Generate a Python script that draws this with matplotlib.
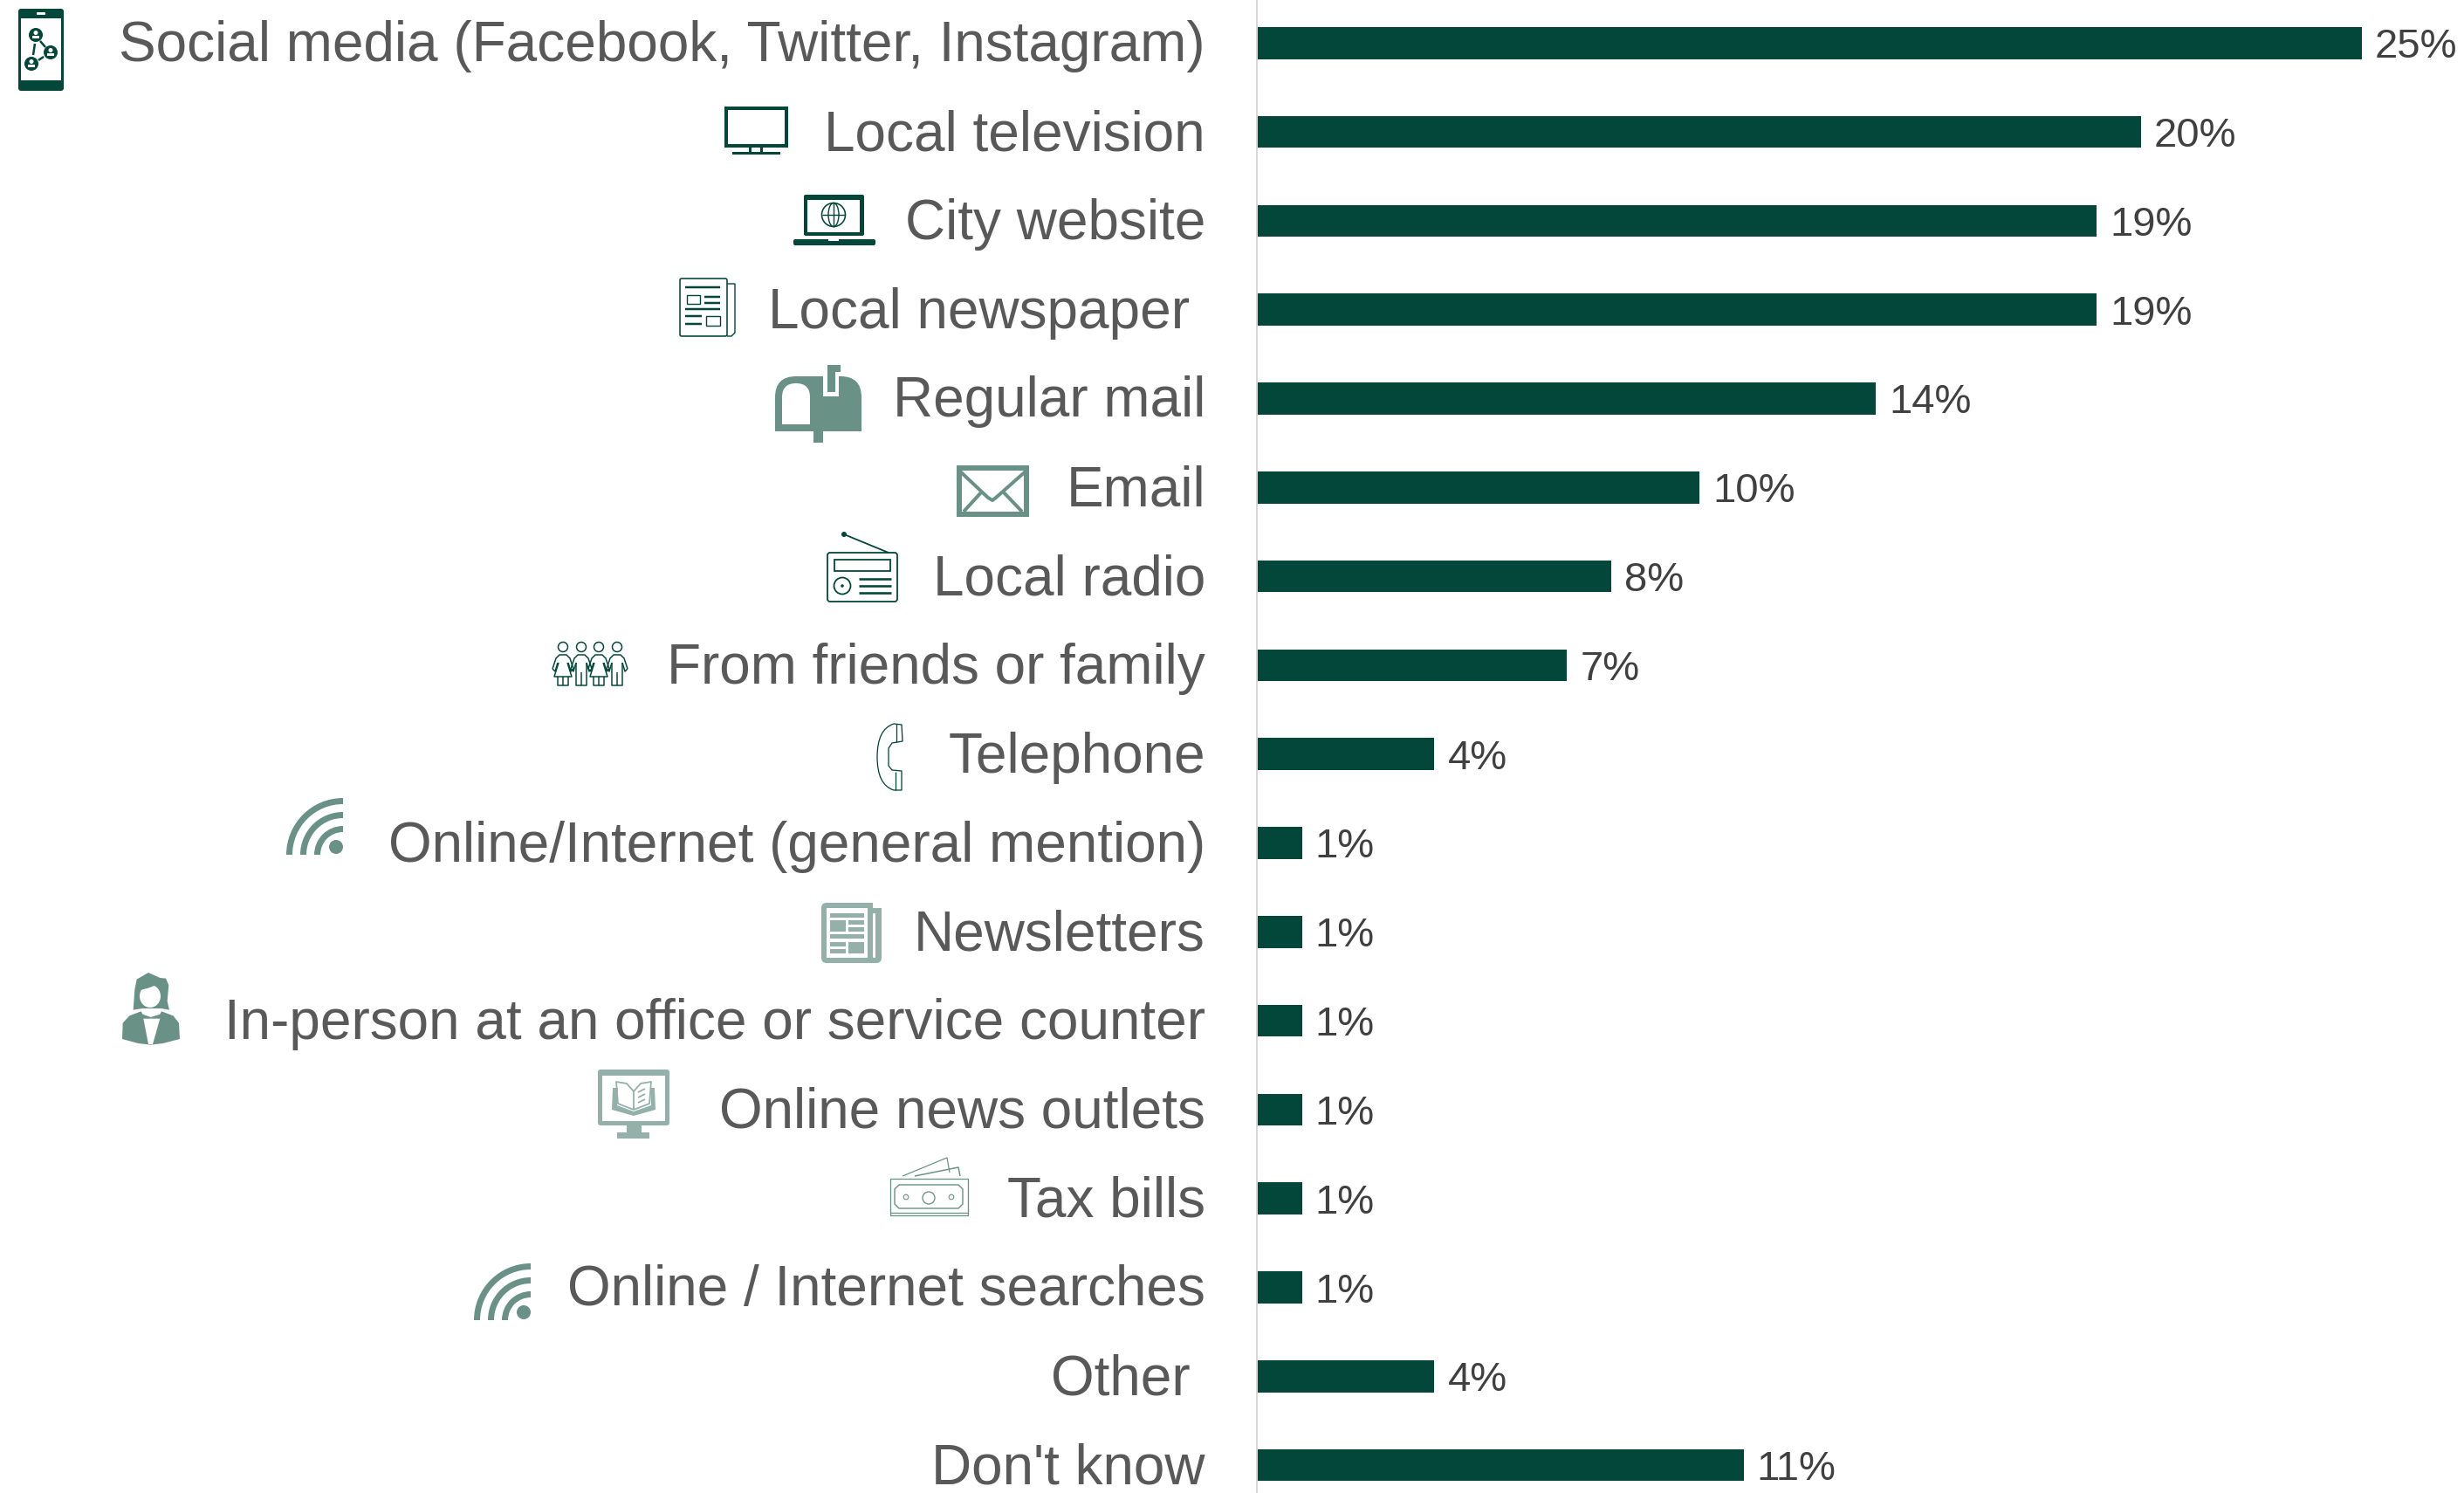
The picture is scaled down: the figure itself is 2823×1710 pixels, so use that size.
#!/usr/bin/env python3
"""Horizontal bar chart of preferred information sources, with a small pictogram per row."""

import matplotlib
matplotlib.use('Agg')

import numpy as np
import matplotlib.pyplot as plt
import matplotlib.patches as patches
from matplotlib.path import Path

plt.rcParams['font.family'] = ['Liberation Sans', 'DejaVu Sans']

# Chart data
categories = [
    'Social media (Facebook, Twitter, Instagram)',
    'Local television',
    'City website',
    'Local newspaper ',
    'Regular mail',
    'Email',
    'Local radio',
    'From friends or family',
    'Telephone',
    'Online/Internet (general mention)',
    'Newsletters',
    'In-person at an office or service counter',
    'Online news outlets',
    'Tax bills',
    'Online / Internet searches',
    'Other ',
    "Don't know",
]
values = [25, 20, 19, 19, 14, 10, 8, 7, 4, 1, 1, 1, 1, 1, 1, 4, 11]

# Colors
COLOR_BAR = '#03473A'
COLOR_DARK = '#03473A'
COLOR_MID = '#6A9186'
COLOR_LIGHT = '#94B1A9'
COLOR_LABEL = '#595959'
COLOR_VALUE = '#404040'
COLOR_AXIS = '#D9D9D9'

# Canvas and plot geometry, in pixels
WIDTH, HEIGHT = 2823, 1710
BAR_LEFT = 1441
PX_PER_PCT = 50.6
ROW_TOP = 49.3
ROW_STEP = 101.8
PX = 0.72  # one pixel in points at dpi=100


def rect(ax, x0, y0, x1, y1, color, lw=0, fill=True, zorder=2):
    ax.add_patch(patches.Rectangle((x0, y0), x1 - x0, y1 - y0, linewidth=lw * PX,
                                   edgecolor=color if lw else 'none',
                                   facecolor=color if fill else 'none', zorder=zorder))


def rrect(ax, x0, y0, x1, y1, r, color, lw=0, fill=True, zorder=2):
    ax.add_patch(patches.FancyBboxPatch((x0 + r, y0 + r), x1 - x0 - 2 * r, y1 - y0 - 2 * r,
                                        boxstyle=f'round,pad={r},rounding_size={r}',
                                        linewidth=lw * PX, edgecolor=color if lw else 'none',
                                        facecolor=color if fill else 'none', zorder=zorder))


def line(ax, pts, color, lw=2, zorder=3):
    xs, ys = zip(*pts)
    ax.plot(xs, ys, color=color, linewidth=lw * PX, solid_capstyle='butt',
            solid_joinstyle='round', zorder=zorder)


def poly(ax, pts, color, zorder=2):
    ax.add_patch(patches.Polygon(pts, closed=True, facecolor=color, edgecolor='none', zorder=zorder))


def circle(ax, x, y, r, color, lw=0, fill=True, zorder=3):
    ax.add_patch(patches.Circle((x, y), r, linewidth=lw * PX, edgecolor=color if lw else 'none',
                                facecolor=color if fill else 'none', zorder=zorder))


def draw_phone(ax):
    rrect(ax, 21, 10, 73, 104, 3, COLOR_DARK)
    rect(ax, 24, 21, 70, 92, 'white', zorder=3)
    rrect(ax, 42, 14, 52, 17, 1, 'white', zorder=3)
    nodes = [(41, 40), (58, 60), (36, 73)]
    line(ax, [(46, 47), (52, 54)], COLOR_DARK, 2.5, zorder=4)
    line(ax, [(40, 50), (38, 63)], COLOR_DARK, 2.5, zorder=4)
    line(ax, [(44, 69), (50, 65)], COLOR_DARK, 2.5, zorder=4)
    for x, y in nodes:
        circle(ax, x, y, 8, COLOR_DARK, zorder=4)
        circle(ax, x, y - 2.5, 2.5, 'white', zorder=5)
        rect(ax, x - 4, y + 1, x + 4, y + 4, 'white', zorder=5)


def draw_tv(ax):
    rect(ax, 832, 124, 901, 167, COLOR_DARK, lw=4, fill=False)
    rect(ax, 858, 169, 861, 175, COLOR_DARK)
    rect(ax, 871, 169, 874, 175, COLOR_DARK)
    rect(ax, 839, 174, 894, 177, COLOR_DARK)


def draw_laptop(ax):
    rrect(ax, 921, 223, 990, 270, 2, COLOR_DARK)
    rect(ax, 925, 229, 985, 266, 'white', zorder=3)
    circle(ax, 955, 246, 13.5, COLOR_DARK, lw=1.6, fill=False, zorder=4)
    ax.add_patch(patches.Ellipse((955, 246), 12, 27, linewidth=1.4 * PX, edgecolor=COLOR_DARK,
                                 facecolor='none', zorder=4))
    line(ax, [(955, 232), (955, 260)], COLOR_DARK, 1.4, zorder=4)
    line(ax, [(942, 246), (968, 246)], COLOR_DARK, 1.4, zorder=4)
    rrect(ax, 909, 274, 1003, 281, 2, COLOR_DARK)
    rect(ax, 949, 274, 961, 276, 'white', zorder=3)


def draw_newspaper(ax):
    rrect(ax, 779, 319, 833, 385, 2, COLOR_DARK, lw=1.6, fill=False)
    line(ax, [(833, 325), (842, 325), (842, 381), (838, 385), (833, 385)], COLOR_DARK, 1.4)
    for y0 in (329, 354):
        line(ax, [(785, y0), (825, y0)], COLOR_DARK, 2.5)
    rect(ax, 787, 338, 802, 348, COLOR_DARK, lw=1.4, fill=False)
    line(ax, [(807, 340), (825, 340)], COLOR_DARK, 2.5)
    line(ax, [(807, 347), (825, 347)], COLOR_DARK, 2.5)
    line(ax, [(785, 362), (804, 362)], COLOR_DARK, 2.5)
    line(ax, [(785, 371), (804, 371)], COLOR_DARK, 2.5)
    rect(ax, 809, 362, 825, 373, COLOR_DARK, lw=1.4, fill=False)


def draw_mailbox(ax):
    verts = [(888, 494), (888, 455), (888, 431), (912, 431), (963, 431), (987, 431),
             (987, 455), (987, 494), (888, 494)]
    codes = [Path.MOVETO, Path.LINETO, Path.CURVE3, Path.CURVE3, Path.LINETO, Path.CURVE3,
             Path.CURVE3, Path.LINETO, Path.CLOSEPOLY]
    ax.add_patch(patches.PathPatch(Path(verts, codes), facecolor=COLOR_MID, edgecolor='none', zorder=2))
    # door
    door = [(896, 486), (896, 455), (896, 439), (912, 439), (928, 439), (928, 455), (928, 486), (896, 486)]
    door_codes = [Path.MOVETO, Path.LINETO, Path.CURVE3, Path.CURVE3, Path.CURVE3, Path.CURVE3,
                  Path.LINETO, Path.CLOSEPOLY]
    ax.add_patch(patches.PathPatch(Path(door, door_codes), facecolor='white', edgecolor='none', zorder=3))
    rect(ax, 932, 494, 943, 507, COLOR_MID)
    # flag sits in a white notch
    rect(ax, 943, 431, 961, 454, 'white', zorder=3)
    rect(ax, 948, 418, 957, 449, COLOR_MID, zorder=4)
    rect(ax, 948, 418, 963, 426, COLOR_MID, zorder=4)


def draw_envelope(ax):
    rect(ax, 1099, 536, 1176, 589, COLOR_MID, lw=6, fill=False)
    line(ax, [(1099, 539), (1132, 570), (1137, 573), (1141, 570), (1176, 539)], COLOR_MID, 4)
    line(ax, [(1104, 586), (1125, 563)], COLOR_MID, 4)
    line(ax, [(1171, 586), (1149, 563)], COLOR_MID, 4)


def draw_radio(ax):
    rrect(ax, 948, 633, 1028, 689, 3, COLOR_DARK, lw=1.8, fill=False)
    line(ax, [(967, 612), (1018, 633)], COLOR_DARK, 1.8)
    circle(ax, 967, 612, 3, COLOR_DARK)
    rect(ax, 956, 641, 1020, 654, COLOR_DARK, lw=1.8, fill=False)
    circle(ax, 965, 671, 9.5, COLOR_DARK, lw=1.8, fill=False)
    circle(ax, 965, 671, 1.8, COLOR_DARK)
    for y0 in (663, 671, 679):
        line(ax, [(984, y0), (1021, y0)], COLOR_DARK, 2.6)


def draw_family(ax):
    shoulders = [(-12, 25), (-8, 13), (-4, 9), (4, 9), (8, 13), (12, 25)]
    for i, cx in enumerate((645, 666, 686, 707)):
        cy = 741
        circle(ax, cx, cy, 5.5, COLOR_DARK, lw=1.5, fill=False)
        offset = lambda pts: [(cx + dx, cy + dy) for dx, dy in pts]
        line(ax, offset(shoulders), COLOR_DARK, 1.5)
        line(ax, offset([(-12, 25), (-9, 28), (-6, 18)]), COLOR_DARK, 1.5)
        line(ax, offset([(12, 25), (9, 28), (6, 18)]), COLOR_DARK, 1.5)
        if i % 2 == 0:
            line(ax, offset([(-5, 18), (-10, 34), (10, 34), (5, 18)]), COLOR_DARK, 1.5)
            line(ax, offset([(-6, 34), (-6, 44), (6, 44), (6, 34)]), COLOR_DARK, 1.5)
            line(ax, offset([(0, 34), (0, 44)]), COLOR_DARK, 1.5)
        else:
            line(ax, offset([(-6, 18), (-6, 44), (6, 44), (6, 18)]), COLOR_DARK, 1.5)
            line(ax, offset([(0, 29), (0, 44)]), COLOR_DARK, 1.5)


def draw_telephone(ax):
    verts = [(1033, 830), (1024, 829), (1005, 835), (1005, 867), (1005, 899), (1024, 905),
             (1033, 905), (1033, 883), (1022, 882), (1018, 877), (1018, 857), (1022, 851),
             (1034, 849), (1034, 830)]
    codes = [Path.MOVETO, Path.LINETO, Path.CURVE3, Path.CURVE3, Path.CURVE3, Path.CURVE3,
             Path.LINETO, Path.LINETO, Path.LINETO, Path.LINETO, Path.LINETO, Path.LINETO,
             Path.LINETO, Path.CLOSEPOLY]
    ax.add_patch(patches.PathPatch(Path(verts, codes), facecolor='none', edgecolor=COLOR_DARK,
                                   linewidth=1.3 * PX, zorder=3))
    line(ax, [(1027, 829), (1027, 850)], COLOR_DARK, 1.3)
    line(ax, [(1026, 884), (1026, 905)], COLOR_DARK, 1.3)


def draw_wifi(ax, x, y):
    # (x, y) is the lower right corner of the quarter arcs
    for r in (61, 45, 29):
        ax.add_patch(patches.Wedge((x, y), r + 4, 180, 270, width=7, facecolor=COLOR_MID,
                                   edgecolor='none', zorder=2))
    circle(ax, x - 8, y - 9, 8, COLOR_MID)


def draw_newsletter(ax):
    color = COLOR_LIGHT
    rrect(ax, 941, 1034, 1010, 1103, 6, color)
    rect(ax, 1000, 1034, 1010, 1040, 'white', zorder=3)
    rect(ax, 947, 1040, 994, 1097, 'white', zorder=3)
    rrect(ax, 1000, 1046, 1003, 1097, 1, 'white', zorder=3)
    rect(ax, 951, 1046, 990, 1051, color, zorder=4)
    rect(ax, 951, 1054, 969, 1067, color, zorder=4)
    rect(ax, 972, 1054, 990, 1059, color, zorder=4)
    rect(ax, 972, 1062, 990, 1067, color, zorder=4)
    rect(ax, 951, 1070, 990, 1075, color, zorder=4)
    rect(ax, 951, 1079, 969, 1084, color, zorder=4)
    rect(ax, 951, 1087, 969, 1092, color, zorder=4)
    rect(ax, 972, 1079, 990, 1092, color, zorder=4)


def draw_woman(ax):
    color = COLOR_MID
    # outline points are taken at 3x scale around the icon's corner
    scaled = lambda pts: [(120 + x / 3, 1100 + y / 3) for x, y in pts]
    hair = [(98, 170), (103, 100), (110, 65), (150, 42), (190, 60), (210, 62), (220, 85),
            (215, 140), (222, 170), (195, 165), (130, 165)]
    poly(ax, scaled(hair), color)
    ax.add_patch(patches.Ellipse((172, 1141), 24, 26, facecolor='white', edgecolor='none', zorder=3))
    fringe = [(121, 102), (150, 95), (175, 85), (192, 68), (160, 52), (118, 75)]
    poly(ax, scaled(fringe), color, zorder=4)
    # shoulders and jacket
    jacket = [(60, 270), (62, 215), (85, 190), (125, 175), (130, 185), (158, 195), (190, 185),
              (195, 175), (235, 190), (255, 215), (258, 270), (200, 285), (158, 290), (115, 285)]
    poly(ax, scaled(jacket), color)
    shirt = [(133, 200), (190, 200), (165, 288), (150, 288)]
    poly(ax, scaled(shirt), 'white', zorder=3)


def draw_monitor_book(ax):
    color = COLOR_LIGHT
    rrect(ax, 685, 1225, 767, 1289, 3, color)
    rect(ax, 690, 1232, 762, 1284, 'white', zorder=3)
    rect(ax, 718, 1289, 735, 1298, color)
    rect(ax, 707, 1297, 744, 1304, color)
    # open book
    poly(ax, [(702, 1246), (701, 1271), (726, 1278), (751, 1271), (750, 1246), (745, 1246),
              (746, 1266), (726, 1273), (707, 1266), (708, 1246)], color, zorder=4)
    line(ax, [(726, 1250), (718, 1241), (706, 1239), (708, 1264), (726, 1271), (744, 1264),
              (746, 1239), (734, 1241), (726, 1250), (726, 1271)], color, 1.8, zorder=4)
    line(ax, [(731, 1251), (739, 1247)], color, 1.8, zorder=4)
    line(ax, [(731, 1257), (739, 1253)], color, 1.8, zorder=4)
    line(ax, [(731, 1263), (739, 1259)], color, 1.8, zorder=4)


def draw_bills(ax):
    color = COLOR_MID
    rect(ax, 1020, 1350, 1109, 1392, color, lw=1.3, fill=False)
    line(ax, [(1020, 1389), (1109, 1389)], color, 1.3)
    line(ax, [(1030, 1357), (1098, 1357), (1103, 1362), (1103, 1379), (1098, 1384),
              (1030, 1384), (1025, 1379), (1025, 1362), (1030, 1357)], color, 1.4)
    circle(ax, 1064, 1372, 7, color, lw=1.3, fill=False)
    circle(ax, 1038, 1371, 2.8, color, lw=1.1, fill=False)
    circle(ax, 1090, 1371, 2.8, color, lw=1.1, fill=False)
    line(ax, [(1034, 1347), (1085, 1326), (1088, 1343)], color, 1.2)
    line(ax, [(1048, 1347), (1098, 1337), (1100, 1347)], color, 1.5)


def draw_icons(ax):
    draw_phone(ax)
    draw_tv(ax)
    draw_laptop(ax)
    draw_newspaper(ax)
    draw_mailbox(ax)
    draw_envelope(ax)
    draw_radio(ax)
    draw_family(ax)
    draw_telephone(ax)
    draw_wifi(ax, 393, 979)
    draw_newsletter(ax)
    draw_woman(ax)
    draw_monitor_book(ax)
    draw_bills(ax)
    draw_wifi(ax, 608, 1512)


def main():
    fig = plt.figure(figsize=(WIDTH / 100, HEIGHT / 100), dpi=100, facecolor='white')

    # Bars live in an axes whose scale is percent on x and row index on y
    ax = fig.add_axes([BAR_LEFT / WIDTH, 0, 1 - BAR_LEFT / WIDTH, 1])
    ax.set_xlim(0, (WIDTH - BAR_LEFT) / PX_PER_PCT)
    ax.set_ylim((HEIGHT - ROW_TOP) / ROW_STEP, -ROW_TOP / ROW_STEP)
    rows = np.arange(len(categories))
    ax.barh(rows, values, height=0.36, color=COLOR_BAR, linewidth=0)

    for spine in ('top', 'right', 'bottom'):
        ax.spines[spine].set_visible(False)
    ax.spines['left'].set_color(COLOR_AXIS)
    ax.spines['left'].set_linewidth(2 * PX)
    ax.spines['left'].set_position(('outward', 1))
    ax.set_xticks([])
    ax.set_yticks([])
    ax.patch.set_alpha(0)

    for row, label, val in zip(rows, categories, values):
        ax.annotate(label, xy=(0, row), xytext=(-60, -21), textcoords='offset pixels',
                    ha='right', va='baseline', fontsize=46, color=COLOR_LABEL,
                    annotation_clip=False)
        ax.annotate(f'{val}%', xy=(val, row), xytext=(15, -17), textcoords='offset pixels',
                    ha='left', va='baseline', fontsize=34, color=COLOR_VALUE,
                    annotation_clip=False)

    # Pictograms are placed in plain pixel coordinates on a full-figure overlay
    overlay = fig.add_axes([0, 0, 1, 1])
    overlay.set_xlim(0, WIDTH)
    overlay.set_ylim(HEIGHT, 0)
    overlay.axis('off')
    draw_icons(overlay)

    fig.savefig('out.png', dpi=100)
    plt.close(fig)


if __name__ == '__main__':
    main()
